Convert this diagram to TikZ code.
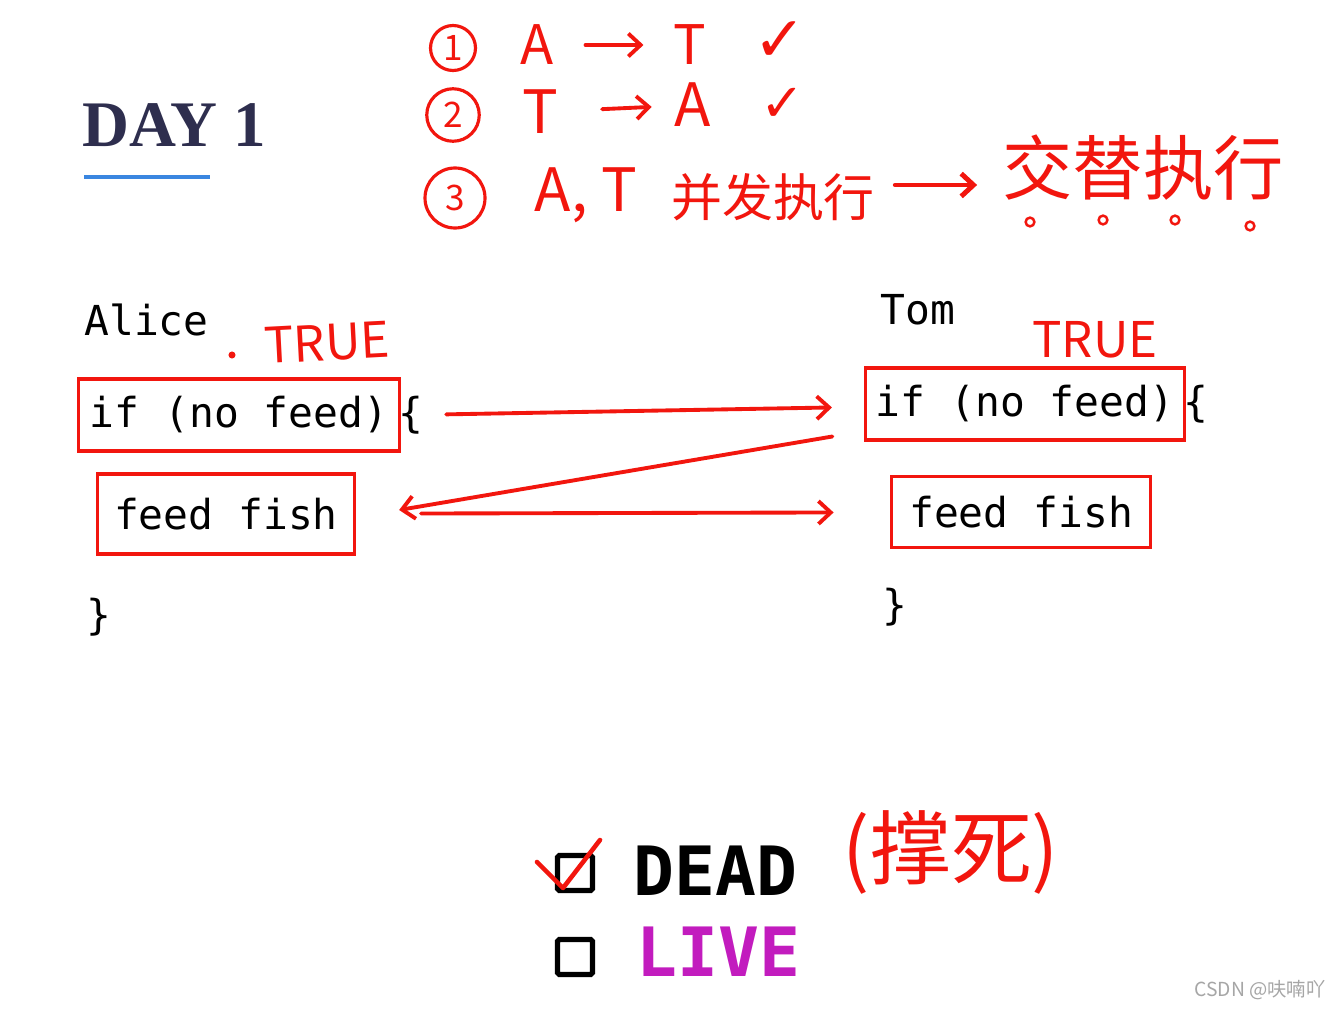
\documentclass[tikz,border=0pt]{standalone}
\usepackage{fontspec}
\usetikzlibrary{positioning, arrows.meta, calc}
\newfontfamily\codefont{DejaVu Sans Mono}
\newfontfamily\dayfont{Liberation Serif}
\newfontfamily\cjk{Noto Sans CJK SC}
\newfontfamily\symfont{DejaVu Sans}
\definecolor{pen}{HTML}{F2160E}
\definecolor{navy}{HTML}{2E2E4E}
\definecolor{live}{HTML}{C21CBE}
\definecolor{rulecol}{HTML}{3A86E0}

\begin{document}
\begin{tikzpicture}[
        x=0.02cm, y=-0.02cm,
        code/.style={inner sep=0pt, font=\codefont\fontsize{23.5}{28}\selectfont},
        codebox/.style={code, draw=pen, line width=2pt, minimum height=1.45cm},
        hand/.style={text=pen, inner sep=0pt, font=\cjk\fontsize{#1}{#1}\selectfont},
        hand/.default=30,
        checkmk/.style={text=pen, inner sep=0pt, font=\symfont\fontsize{#1}{#1}\selectfont},
        num/.style={circle, draw=pen, line width=1.8pt, text=pen, inner sep=0pt, minimum size=0.9cm, font=\cjk\fontsize{20}{20}\selectfont},
        chkbox/.style={draw=black, line width=3pt, rounded corners=1pt, minimum size=0.7cm, inner sep=0pt},
        big/.style={inner sep=0pt, font=\codefont\bfseries\fontsize{38.7}{40}\selectfont},
        penline/.style={draw=pen, line width=2.2pt, line cap=round, line join=round},
        penarrow/.style={penline, -{Straight Barb[length=7pt, width=13pt]}}
    ]
    \fill[white] (0,0) rectangle (1341,1010);
    \useasboundingbox (0,0) rectangle (1341,1010);

    % title
    \node[anchor=west, text=navy, inner sep=0pt, font=\dayfont\bfseries\fontsize{37}{40}\selectfont] (Day) at (82,125) {DAY 1};
    \draw[rulecol, line width=2.2pt] (84,177) -- (210,177);

    % three orders
    \node[num] (N1) at (453,48) {1};
    \node[hand=31] (A1) at (537,45) {A};
    \node[hand=31] (T1) at (690,45) {T};
    \node[checkmk=36] (C1) at (780,42) {✓};
    \draw[penarrow, shorten <=18pt, shorten >=17pt] (A1) -- (T1);

    \node[num, minimum size=1.05cm] (N2) at (453,115) {2};
    \node[hand=34] (T2) at (540,112) {T};
    \node[hand=34] (A2) at (693,105) {A};
    \node[checkmk=30] (C2) at (783,105) {✓};
    \draw[penarrow, shorten <=25pt, shorten >=13pt] (T2) -- (A2);

    \node[num, minimum size=1.2cm] (N3) at (455,198) {3};
    \node[hand=34] (AT3) at (586,195) {A, T};
    \node[hand=29] (Bing) at (773,197) {并发执行};
    \node[hand=40] (Jiao) at (1143,168) {交替执行};
    \draw[penarrow, line width=2.8pt] ($(Bing.east)+(20,-12)$) -- ($(Jiao.west)+(-25,17)$);
    \foreach \dx/\dy in {1030/222, 1103/220, 1175/220, 1250/226}
        \draw[pen, line width=1.4pt] (\dx,\dy) circle (2.5pt);

    % Alice
    \node[code, anchor=west] (Alice) at (84,320) {Alice};
    \node[hand=28, rotate=3] (AliceTrue) at (327,343) {TRUE};
    \fill[pen] (232,355) circle (2pt);
    \node[codebox, inner xsep=6.5pt] (AliceIf) at (239,415) {if (no feed)};
    \node[code, right=-2pt of AliceIf] (AliceBrace) {\{};
    \node[codebox, inner xsep=9.4pt, minimum height=1.6cm] (AliceFeed) at (226,514) {feed fish};
    \node[code, anchor=west] (AliceEnd) at (86,617) {\}};
    \coordinate (AliceIn) at ($(AliceFeed.east)+(43,-4)$);

    % Tom
    \node[code, anchor=west] (Tom) at (880,310) {Tom};
    \node[hand=28] (TomTrue) at (1095,340) {TRUE};
    \node[codebox, inner xsep=6pt, minimum height=1.44cm] (TomIf) at (1025,404) {if (no feed)};
    \node[code, right=-2pt of TomIf] (TomBrace) {\{};
    \node[codebox, inner xsep=10pt, minimum height=1.42cm] (TomFeed) at (1021,512) {feed fish};
    \node[code, anchor=west] (TomEnd) at (882,607) {\}};

    \draw[penarrow, shorten <=13pt, shorten >=18pt] (AliceBrace) -- (TomIf);
    \draw[penarrow, shorten <=18pt] (TomIf) -- (AliceIn);
    \draw[penarrow, shorten <=37pt, shorten >=32pt] (AliceFeed) -- (TomFeed);

    % result
    \node[chkbox] (DeadBox) at (575,873) {};
    \node[chkbox] (LiveBox) at (575,957) {};
    \draw[penline, line width=2.6pt] ($(DeadBox)+(-38,-11)$) -- ($(DeadBox)+(-12,15)$) -- ($(DeadBox)+(25,-33)$);
    \node[big, anchor=west] (Dead) at (633,871) {DEAD};
    \node[big, anchor=west, text=live] (Live) at (636,952) {LIVE};
    \node[hand=46] (Die) at (951,852) {(撑死)};

    \node[text=gray!70, inner sep=0pt, font=\cjk\fontsize{11}{13}\selectfont] (Credit) at (1260,990) {CSDN @呋喃吖};
\end{tikzpicture}
\end{document}
